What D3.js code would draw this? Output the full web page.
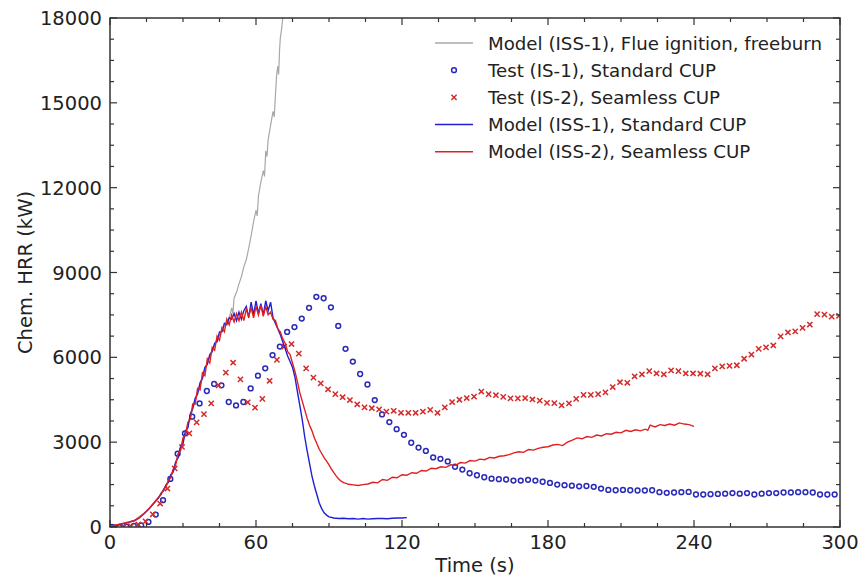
<!DOCTYPE html>
<html><head><meta charset="utf-8">
<script src="https://cdn.jsdelivr.net/npm/d3@7"></script>
<style>body{margin:0;background:#fff}svg{display:block}text{font-family:"DejaVu Sans",sans-serif;fill:#222}</style>
</head><body>
<script>
// ---- data ----
const xTicks = [0, 60, 120, 180, 240, 300];
const yTicks = [0, 3000, 6000, 9000, 12000, 15000, 18000];
const seriesNames = ["Model (ISS-1), Flue ignition, freeburn","Test (IS-1), Standard CUP","Test (IS-2), Seamless CUP","Model (ISS-1), Standard CUP","Model (ISS-2), Seamless CUP"];

const modelFreeburn = [[0,20],[5,110],[10,240],[15,560],[20,1020],[25,1780],[28,2550],[30,3050],[32,3600],[35,4450],[38,5300],[40,5800],[43,6450],[45,6800],[48,7250],[49,7400],[50,7750],[50.5,7550],[51,8100],[52,8300],[53,8600],[54,8850],[55,9200],[56,9450],[57,9850],[58,10300],[59,10800],[60,11200],[60.5,11000],[61,11700],[62,12200],[63,12600],[63.5,12400],[64,13300],[64.5,13100],[65,13700],[66,14200],[67,14700],[67.5,14500],[68,15300],[68.5,16000],[69,16300],[69.3,16000],[69.7,16900],[70,17300],[70.5,17600],[71,18000],[71.5,18600]];

const testStandard = [[0.8,0],[3.8,0],[6.8,10],[9.8,35],[12.8,60],[15.8,180],[18.8,440],[21.8,950],[24.8,1700],[27.8,2590],[30.8,3310],[33.8,3900],[36.8,4370],[39.8,4810],[42.8,5060],[45.8,5010],[48.8,4420],[51.8,4300],[54.8,4420],[57.8,4900],[60.8,5350],[63.8,5610],[66.8,6080],[69.8,6380],[72.8,6900],[75.8,7070],[78.8,7370],[81.8,7750],[84.8,8140],[87.8,8090],[90.8,7770],[93.8,7110],[96.8,6300],[99.8,5850],[102.8,5410],[105.8,5040],[108.8,4490],[111.8,3980],[114.8,3710],[117.8,3460],[120.8,3260],[123.8,2980],[126.8,2810],[129.8,2690],[132.8,2460],[135.8,2410],[138.8,2320],[141.8,2130],[144.8,2030],[147.8,1900],[150.8,1830],[153.8,1760],[156.8,1710],[159.8,1690],[162.8,1680],[165.8,1640],[168.8,1640],[171.8,1670],[174.8,1640],[177.8,1600],[180.8,1560],[183.8,1500],[186.8,1480],[189.8,1460],[192.8,1440],[195.8,1450],[198.8,1420],[201.8,1360],[204.8,1310],[207.8,1300],[210.8,1310],[213.8,1300],[216.8,1290],[219.8,1290],[222.8,1300],[225.8,1230],[228.8,1210],[231.8,1220],[234.8,1230],[237.8,1240],[240.8,1150],[243.8,1150],[246.8,1160],[249.8,1170],[252.8,1180],[255.8,1200],[258.8,1180],[261.8,1200],[264.8,1150],[267.8,1180],[270.8,1200],[273.8,1200],[276.8,1220],[279.8,1220],[282.8,1230],[285.8,1230],[288.8,1220],[291.8,1150],[294.8,1150],[297.8,1150]];

const testSeamless = [[2.6,0],[5.6,10],[8.6,30],[11.6,90],[14.6,200],[17.6,450],[20.6,830],[23.6,1360],[26.6,2070],[29.6,2830],[32.6,3310],[35.6,3700],[38.6,3990],[41.6,4370],[44.6,5010],[47.6,5460],[50.6,5810],[53.6,5220],[56.6,4410],[59.6,4220],[62.6,4530],[65.6,5170],[68.6,5910],[71.6,6380],[74.6,6470],[77.6,6130],[80.6,5610],[83.6,5280],[86.6,5080],[89.6,4870],[92.6,4700],[95.6,4590],[98.6,4490],[101.6,4340],[104.6,4230],[107.6,4200],[110.6,4160],[113.6,4080],[116.6,4110],[119.6,4040],[122.6,4040],[125.6,4040],[128.6,4080],[131.6,4140],[134.6,4040],[137.6,4230],[140.6,4420],[143.6,4500],[146.6,4560],[149.6,4610],[152.6,4790],[155.6,4700],[158.6,4660],[161.6,4600],[164.6,4550],[167.6,4550],[170.6,4560],[173.6,4510],[176.6,4470],[179.6,4390],[182.6,4380],[185.6,4300],[188.6,4370],[191.6,4530],[194.6,4670],[197.6,4670],[200.6,4700],[203.6,4760],[206.6,4950],[209.6,5120],[212.6,5100],[215.6,5330],[218.6,5400],[221.6,5510],[224.6,5430],[227.6,5400],[230.6,5540],[233.6,5510],[236.6,5430],[239.6,5430],[242.6,5420],[245.6,5400],[248.6,5610],[251.6,5680],[254.6,5700],[257.6,5720],[260.6,5950],[263.6,6100],[266.6,6300],[269.6,6350],[272.6,6420],[275.6,6740],[278.6,6880],[281.6,6920],[284.6,7040],[287.6,7160],[290.6,7530],[293.6,7510],[296.6,7440],[299.6,7470]];

const modelStandard = [[0,20],[2,50],[4,90],[6,130],[8,170],[10,220],[12,320],[14,470],[16,640],[18,840],[20,1040],[21,1200],[22,1280],[23,1480],[24,1580],[25,1850],[26,1950],[27,2300],[28,2450],[29,2850],[30,2950],[31,3400],[32,3500],[33,4000],[34,4200],[35,4550],[36,4700],[37,5100],[38,5250],[39,5650],[40,5750],[41,6100],[42,6200],[43,6500],[44,6550],[45,6900],[46,6900],[47,7200],[48,7150],[49,7400],[50,7350],[51,7550],[52,7300],[53,7600],[54,7350],[55,7650],[56,7800],[57,7400],[58,7950],[59,7500],[60,8000],[61,7550],[62,7900],[63,7500],[64,8000],[65,7650],[66,7950],[67,7400],[68,7200],[69,7000],[70,6800],[71,6550],[72,6300],[73,6050],[74,5850],[75,5650],[76,5300],[77,4800],[78,4300],[79,3800],[80,3200],[81,2700],[82,2250],[83,1800],[84,1450],[85,1150],[86,850],[87,650],[88,500],[89,420],[90,360],[92,320],[94,300],[96,310],[98,290],[100,300],[102,280],[104,300],[106,280],[108,290],[110,300],[112,300],[114,290],[116,310],[118,320],[120,320],[122,330]];

const modelSeamless = [[0,30],[2,60],[4,100],[6,140],[8,180],[10,230],[12,330],[14,480],[16,650],[18,850],[20,1060],[21,1150],[22,1330],[23,1420],[24,1650],[25,1750],[26,2050],[27,2200],[28,2600],[29,2700],[30,3150],[31,3250],[32,3700],[33,3800],[34,4350],[35,4350],[36,4900],[37,4850],[38,5450],[39,5350],[40,5950],[41,5800],[42,6350],[43,6250],[44,6750],[45,6600],[46,7050],[47,6900],[48,7350],[49,7150],[50,7500],[51,7250],[52,7550],[53,7300],[54,7600],[55,7300],[56,7700],[57,7450],[58,7750],[59,7400],[60,7800],[61,7500],[62,7850],[63,7450],[64,7800],[65,7500],[66,7600],[67,7350],[68,7300],[69,7000],[70,6900],[71,6650],[72,6500],[73,6200],[74,6100],[75,5800],[76,5500],[77,5150],[78,4750],[79,4450],[80,4150],[81,3850],[82,3600],[83,3400],[84,3150],[85,2950],[86,2750],[87,2600],[88,2450],[89,2330],[90,2200],[91,2050],[92,1920],[93,1800],[94,1700],[95,1620],[96,1570],[97,1540],[98,1510],[100,1490],[102,1470],[104,1500],[106,1520],[108,1580],[110,1560],[112,1680],[114,1650],[116,1760],[118,1740],[120,1850],[122,1830],[124,1920],[126,1900],[128,2000],[130,1980],[132,2080],[134,2060],[136,2130],[138,2110],[140,2200],[142,2180],[144,2280],[146,2260],[148,2350],[150,2330],[152,2400],[154,2380],[156,2460],[158,2440],[160,2500],[162,2520],[164,2560],[166,2620],[168,2660],[170,2640],[172,2740],[174,2720],[176,2780],[178,2820],[180,2840],[182,2900],[184,2920],[186,2880],[188,3000],[190,3070],[192,3150],[194,3120],[196,3200],[198,3170],[200,3250],[202,3220],[204,3300],[206,3280],[208,3350],[210,3330],[212,3420],[214,3380],[216,3440],[218,3400],[220,3460],[221,3420],[222,3600],[224,3540],[226,3620],[228,3590],[230,3640],[232,3600],[234,3680],[236,3640],[238,3620],[240,3560]];

// ---- layout ----
const W = 861, H = 578;
const m = {l:110, r:21, t:18, b:51};
const x = d3.scaleLinear().domain([0,300]).range([m.l, W-m.r]);
const y = d3.scaleLinear().domain([0,18000]).range([H-m.b, m.t]);

const svg = d3.select("body").append("svg").attr("width",W).attr("height",H);
svg.append("defs").append("clipPath").attr("id","clip").append("rect")
  .attr("x",m.l).attr("y",m.t).attr("width",W-m.l-m.r).attr("height",H-m.t-m.b);

const plot = svg.append("g").attr("clip-path","url(#clip)");
const line = d3.line().x(d=>x(d[0])).y(d=>y(d[1]));

const colGrey = "#a8a8a8", colBlue = "#1f1fd6", colRed = "#e02020", colBlueM = "#2a2ab8", colRedM = "#d42a2a";

plot.append("path").datum(modelFreeburn).attr("d",line).attr("fill","none").attr("stroke",colGrey).attr("stroke-width",1.2);
plot.selectAll("circle.ts").data(testStandard).join("circle").attr("class","ts")
  .attr("cx",d=>x(d[0])).attr("cy",d=>y(d[1])).attr("r",2.4)
  .attr("fill","none").attr("stroke",colBlueM).attr("stroke-width",1.5);
const xs = 2.6;
plot.selectAll("path.tx").data(testSeamless).join("path").attr("class","tx")
  .attr("d",d=>{const cx=x(d[0]), cy=y(d[1]);return `M${cx-xs},${cy-xs}L${cx+xs},${cy+xs}M${cx-xs},${cy+xs}L${cx+xs},${cy-xs}`;})
  .attr("stroke",colRedM).attr("stroke-width",1.5).attr("fill","none");
plot.append("path").datum(modelStandard).attr("d",line).attr("fill","none").attr("stroke",colBlue).attr("stroke-width",1.4);
plot.append("path").datum(modelSeamless).attr("d",line).attr("fill","none").attr("stroke",colRed).attr("stroke-width",1.4);

// ---- axes (matplotlib style, ticks inward, mirrored) ----
const axCol = "#333";
const ax = svg.append("g");
ax.append("rect").attr("x",m.l).attr("y",m.t).attr("width",W-m.l-m.r).attr("height",H-m.t-m.b)
  .attr("fill","none").attr("stroke",axCol).attr("stroke-width",1.5);
const xMinor = d3.range(0,301,15), yMinor = d3.range(0,18001,750);
const tickG = ax.append("g").attr("stroke",axCol).attr("stroke-width",1.2);
xMinor.forEach(v=>{
  const major = xTicks.includes(v); const L = major?7:4;
  tickG.append("line").attr("x1",x(v)).attr("x2",x(v)).attr("y1",y(0)).attr("y2",y(0)-L);
  tickG.append("line").attr("x1",x(v)).attr("x2",x(v)).attr("y1",y(18000)).attr("y2",y(18000)+L);
});
yMinor.forEach(v=>{
  const major = yTicks.includes(v); const L = major?7:4;
  tickG.append("line").attr("y1",y(v)).attr("y2",y(v)).attr("x1",x(0)).attr("x2",x(0)+L);
  tickG.append("line").attr("y1",y(v)).attr("y2",y(v)).attr("x1",x(300)).attr("x2",x(300)-L);
});
const fs = 19.5;
ax.selectAll("text.xt").data(xTicks).join("text").attr("class","xt")
  .attr("x",d=>x(d)).attr("y",y(0)+22).attr("text-anchor","middle").attr("font-size",fs).text(d=>d);
ax.selectAll("text.yt").data(yTicks).join("text").attr("class","yt")
  .attr("x",x(0)-8).attr("y",d=>y(d)+7).attr("text-anchor","end").attr("font-size",fs).text(d=>d);
ax.append("text").attr("x",x(150)).attr("y",H-6).attr("text-anchor","middle").attr("font-size",fs).text("Time (s)");
ax.append("text").attr("transform",`translate(32,${(y(0)+y(18000))/2}) rotate(-90)`).attr("text-anchor","middle").attr("font-size",fs).text("Chem. HRR (kW)");

// ---- legend ----
const lg = svg.append("g");
const lx0 = 435, lx1 = 473, tx = 488, ly0 = 43, dy = 27.2;
const lfs = 18.2;
seriesNames.forEach((name,i)=>{
  const yy = ly0 + i*dy;
  if (i===0||i===3||i===4){
    lg.append("line").attr("x1",lx0).attr("x2",lx1).attr("y1",yy).attr("y2",yy)
      .attr("stroke",[colGrey,null,null,colBlue,colRed][i]).attr("stroke-width",1.5);
  } else if (i===1){
    lg.append("circle").attr("cx",(lx0+lx1)/2).attr("cy",yy).attr("r",2.4).attr("fill","none").attr("stroke",colBlueM).attr("stroke-width",1.5);
  } else {
    const cx=(lx0+lx1)/2, s=2.6;
    lg.append("path").attr("d",`M${cx-s},${yy-s}L${cx+s},${yy+s}M${cx-s},${yy+s}L${cx+s},${yy-s}`).attr("stroke",colRedM).attr("stroke-width",1.5);
  }
  lg.append("text").attr("x",tx).attr("y",yy+6.5).attr("font-size",lfs).text(name);
});
</script>
</body></html>
